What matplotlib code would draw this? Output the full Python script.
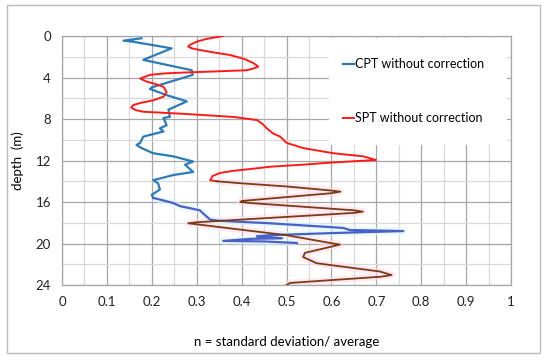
import matplotlib
matplotlib.use("Agg")
import matplotlib.pyplot as plt
from matplotlib.patches import Rectangle
from matplotlib.ticker import MultipleLocator

plt.rcParams['font.family'] = ['Lato', 'DejaVu Sans']

# CPT without correction (upper part, then lower part drawn in a darker blue)
cpt_n_top = [0.177, 0.137, 0.158, 0.244, 0.181, 0.289, 0.291, 0.200, 0.196, 0.233,
             0.278, 0.237, 0.240, 0.226, 0.233, 0.218, 0.226, 0.181, 0.174, 0.166,
             0.177, 0.203, 0.248, 0.292, 0.274, 0.292, 0.248, 0.203, 0.214, 0.218,
             0.200, 0.203]
cpt_d_top = [0.22, 0.45, 0.55, 1.19, 2.3, 3.3, 3.75, 4.95, 5.1, 5.7,
             6.3, 7.1, 7.8, 7.9, 8.6, 8.9, 9.2, 9.7, 10.3, 10.5,
             10.8, 11.3, 11.6, 12.1, 12.4, 13.1, 13.4, 13.9, 14.2, 14.8,
             15.3, 15.6]
cpt_n_low = [0.203, 0.248, 0.263, 0.307, 0.318, 0.330, 0.348, 0.463, 0.626, 0.641,
             0.760, 0.597, 0.463, 0.434, 0.490, 0.420, 0.359, 0.450, 0.523]
cpt_d_low = [15.6, 16.1, 16.4, 16.8, 17.25, 17.7, 17.8, 18.05, 18.5, 18.7,
             18.8, 19.0, 19.2, 19.3, 19.5, 19.55, 19.75, 19.8, 19.95]

# SPT without correction (upper part red, lower part brown)
spt_n_top = [0.359, 0.320, 0.300, 0.285, 0.281, 0.290, 0.307, 0.340, 0.374, 0.405,
             0.426, 0.437, 0.425, 0.411, 0.350, 0.285, 0.230, 0.196, 0.174, 0.189,
             0.210, 0.226, 0.233, 0.226, 0.203, 0.175, 0.159, 0.154, 0.165, 0.181,
             0.270, 0.382, 0.434, 0.447, 0.456, 0.470, 0.486, 0.500, 0.537, 0.604,
             0.671, 0.699, 0.600, 0.537, 0.463, 0.434, 0.380, 0.352, 0.335, 0.330,
             0.344]
spt_d_top = [0.0, 0.3, 0.55, 0.85, 1.03, 1.2, 1.35, 1.6, 1.83, 2.2,
             2.6, 2.95, 3.15, 3.3, 3.4, 3.5, 3.6, 3.75, 4.1, 4.4,
             4.65, 4.9, 5.4, 5.85, 6.2, 6.45, 6.65, 6.9, 7.15, 7.3,
             7.5, 7.8, 8.1, 8.5, 8.9, 9.4, 9.7, 10.3, 10.8, 11.3,
             11.6, 11.95, 12.2, 12.4, 12.6, 12.75, 13.0, 13.2, 13.5, 13.9,
             14.0]
spt_n_low = [0.344, 0.400, 0.500, 0.600, 0.620, 0.600, 0.400, 0.397, 0.420, 0.650,
             0.670, 0.650, 0.300, 0.281, 0.300, 0.500, 0.604, 0.619, 0.600, 0.541,
             0.537, 0.567, 0.708, 0.734, 0.710, 0.508, 0.500]
spt_d_low = [14.0, 14.2, 14.5, 14.9, 15.0, 15.15, 15.9, 16.0, 16.1, 16.8,
             16.93, 17.05, 17.95, 18.05, 18.15, 19.2, 20.0, 20.1, 20.3, 20.9,
             21.3, 21.9, 22.7, 23.04, 23.2, 23.8, 24.0]

fig = plt.figure(figsize=(5.5, 3.6), dpi=100)
fig.patches.append(Rectangle((0.013, 0.02), 0.969, 0.965, transform=fig.transFigure,
                             fill=False, edgecolor='#BBBBBB', linewidth=1.0))
ax = fig.add_axes([0.1127, 0.2083, 0.8166, 0.6917])

ax.set_xlim(0, 1)
ax.set_ylim(24, 0)
ax.xaxis.set_major_locator(MultipleLocator(0.1))
ax.xaxis.set_minor_locator(MultipleLocator(0.05))
ax.yaxis.set_major_locator(MultipleLocator(4))
ax.yaxis.set_minor_locator(MultipleLocator(2))
ax.set_xticks([i / 10 for i in range(11)])
ax.set_xticklabels(['0', '0.1', '0.2', '0.3', '0.4', '0.5', '0.6', '0.7', '0.8', '0.9', '1'])
ax.grid(which='major', color='#A6A6A6', linewidth=0.9)
ax.grid(which='minor', color='#D9D9D9', linewidth=0.9)
ax.set_axisbelow(True)
for s in ax.spines.values():
    s.set_color('#A6A6A6')
    s.set_linewidth(0.9)
ax.tick_params(which='both', length=0, labelsize=9.5, colors='#222222', pad=8)

# white box that holds the legend
ax.add_patch(Rectangle((0.595, 0.562), 0.396, 0.43, transform=ax.transAxes,
                       facecolor='white', edgecolor='none', zorder=1.5))

# pale halo under the lower parts
ax.plot(spt_n_low, spt_d_low, color='#FCDDEB', lw=5, alpha=0.6, zorder=2, solid_capstyle='butt')
ax.plot(cpt_n_low, cpt_d_low, color='#DDF8FB', lw=5, alpha=0.6, zorder=2, solid_capstyle='butt')

ax.plot(cpt_n_top, cpt_d_top, color='#2B7BB9', lw=1.6, zorder=3, label='CPT without correction')
ax.plot(cpt_n_low, cpt_d_low, color='#4A5FC8', lw=1.6, zorder=3)
ax.plot(spt_n_top, spt_d_top, color='#FF1A1A', lw=1.4, zorder=3, label='SPT without correction')
ax.plot(spt_n_low, spt_d_low, color='#7E3A14', lw=1.3, zorder=3)

leg = ax.legend(loc='upper left', bbox_to_anchor=(0.6, 0.955), frameon=False,
                handlelength=0.9, handletextpad=0.1, labelspacing=3.35, fontsize=9)

ax.set_xlabel('n = standard deviation/ average', fontsize=9.5, labelpad=20)
ax.set_ylabel('depth  (m)', fontsize=9.5, labelpad=8)

fig.savefig('out.png', dpi=100)
